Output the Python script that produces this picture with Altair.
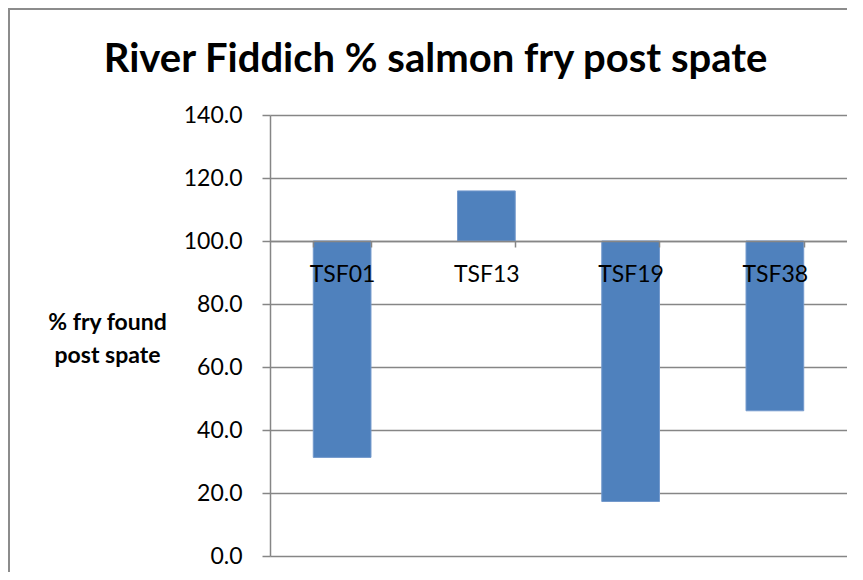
import altair as alt
import pandas as pd

categories = ["TSF01", "TSF13", "TSF19", "TSF38"]
values = [31.3, 115.9, 17.3, 46.1]
baseline = 100
y_ticks = [0, 20, 40, 60, 80, 100, 120, 140]

df = pd.DataFrame({"site": categories, "pct": values})

FONT = "Lato"
GRID = "#868686"

bars = alt.Chart(df).mark_bar(color="#4F81BD", stroke="#7399cc", strokeWidth=1).encode(
    x=alt.X(
        "site:N",
        sort=categories,
        scale=alt.Scale(paddingInner=0.6, paddingOuter=0.3),
        axis=alt.Axis(
            title=None,
            orient="bottom",
            offset=-315,
            zindex=1,
            labelAngle=0,
            labelFont=FONT,
            labelFontSize=23,
            labelColor="black",
            labelPadding=16,
            tickBand="extent",
            tickSize=6,
            tickColor=GRID,
            tickWidth=1.5,
            domainColor=GRID,
            domainWidth=1.5,
            grid=False,
        ),
    ),
    y=alt.Y(
        "pct:Q",
        scale=alt.Scale(domain=[0, 140], nice=False),
        axis=alt.Axis(
            values=y_ticks,
            format=".1f",
            title=["% fry found", "post spate"],
            titleAngle=0,
            titleFont=FONT,
            titleFontSize=23,
            titleFontWeight="bold",
            titleColor="black",
            titleAlign="center",
            titleBaseline="middle",
            titleX=-163,
            titleY=207,
            titleLineHeight=33,
            labelFont=FONT,
            labelFontSize=23,
            labelColor="black",
            labelPadding=20,
            tickSize=8,
            tickColor=GRID,
            tickWidth=1.5,
            domainColor=GRID,
            domainWidth=1.5,
            gridColor=GRID,
            gridWidth=1.5,
        ),
    ),
    y2=alt.datum(baseline),
)

frame = alt.Chart(df).mark_rect(fill=None, stroke="#8c8c8c", strokeWidth=2).encode(
    x=alt.value(-261), x2=alt.value(620), y=alt.value(-106), y2=alt.value(480)
)

chart = alt.layer(frame, bars).properties(
    width=577,
    height=441,
    autosize=alt.AutoSizeParams(type="none"),
    padding={"left": 262, "top": 107, "right": 0, "bottom": 16},
    title=alt.TitleParams(
        "River Fiddich % salmon fry post spate",
        font=FONT,
        fontSize=40,
        fontWeight="bold",
        color="black",
        anchor="middle",
        baseline="alphabetic",
        dx=-123,
        offset=-104,
    ),
).configure_view(stroke=None)

chart.save("out.html", embed_options={"renderer": "svg", "actions": False})
